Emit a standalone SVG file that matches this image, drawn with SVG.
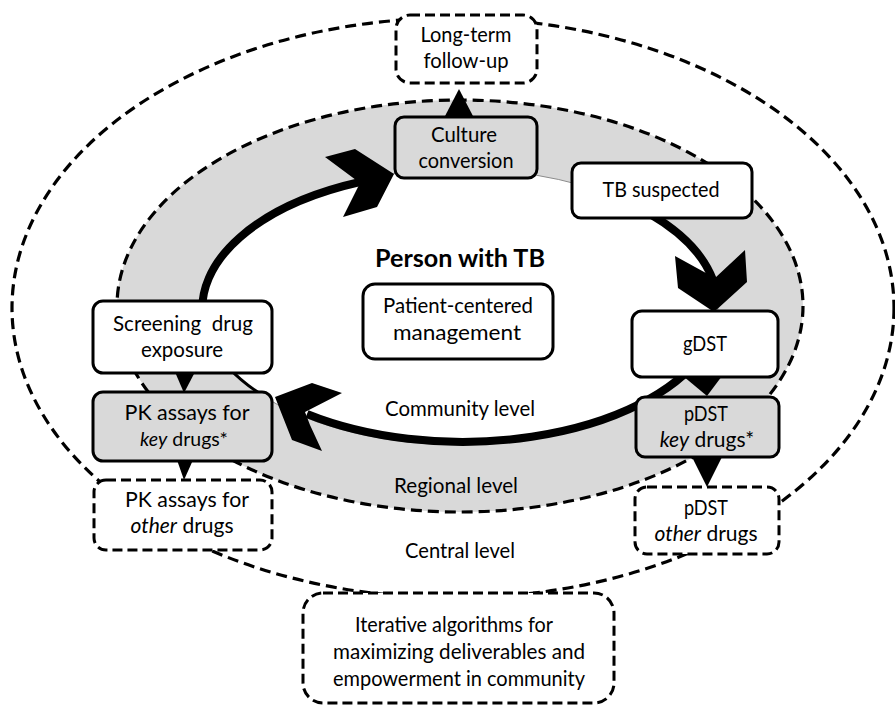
<svg xmlns="http://www.w3.org/2000/svg" width="895" height="707" viewBox="0 0 895 707">
<style>
.t{font-family:Lato,"Liberation Sans",sans-serif;font-size:21px;fill:#000;text-anchor:middle}
.b{font-weight:bold;font-size:25px}
.box{fill:#fff;stroke:#000;stroke-width:3}
.gbox{fill:#d9d9d9;stroke:#000;stroke-width:3}
.dbox{fill:#fff;stroke:#000;stroke-width:3;stroke-dasharray:10 5}
.ring{fill:none;stroke:#000;stroke-width:8}
.dash{fill:none;stroke:#000;stroke-width:3.2;stroke-dasharray:11 6}
</style>
<rect width="895" height="707" fill="#fff"/>
<g id="levels">
<ellipse cx="453" cy="308" rx="441" ry="290" class="dash"/>
<ellipse cx="460" cy="306" rx="343" ry="206" fill="#d9d9d9" stroke="#000" stroke-width="3.2" stroke-dasharray="11 6"/>
<ellipse cx="460" cy="307" rx="258" ry="138" fill="#fff" stroke="#8c8c8c" stroke-width="1"/>
</g>
<g id="connectors">
<path class="ring" d="M203,320 A258,138 0 0 1 360,182"/>
<path class="ring" d="M650,214 A258,138 0 0 1 713,280"/>
<path class="ring" d="M702,355 A258,138 0 0 1 307,414"/>
<path d="M228,367 A258,138 0 0 0 272,401" fill="none" stroke="#000" stroke-width="3"/>
<polygon points="325,157 355,149 394,174 377,207 343,217 360,183"/>
<polygon points="675,256 715,278 745,250 747,282 714,312 678,288"/>
<polygon points="275,397 312,383 342,393 305,412 310,425 322,451 292,440"/>
<polygon points="459,89 474,118 444,118"/>
<polygon points="683,376 722,376 707,396"/>
<polygon points="692,457 722,457 707,487"/>
<polygon points="175,372 195,372 184,393"/>
<polygon points="177,460 193,460 184,480"/>
</g>
<g id="long-term">
<rect class="dbox" x="396" y="15" width="141" height="68" rx="14"/>
<text class="t" x="466" y="42" textLength="91" lengthAdjust="spacingAndGlyphs">Long-term</text>
<text class="t" x="466" y="68" textLength="85" lengthAdjust="spacingAndGlyphs">follow-up</text>
</g>
<g id="culture">
<rect class="gbox" x="395" y="117" width="142" height="61" rx="9"/>
<text class="t" x="464" y="142" textLength="66" lengthAdjust="spacingAndGlyphs">Culture</text>
<text class="t" x="466" y="168" textLength="95" lengthAdjust="spacingAndGlyphs">conversion</text>
</g>
<g id="tb-suspected">
<rect class="box" x="572" y="163" width="180" height="55" rx="9"/>
<text class="t" x="661" y="197" textLength="117" lengthAdjust="spacingAndGlyphs">TB suspected</text>
</g>
<g id="gdst">
<rect class="box" x="632" y="311" width="146" height="66" rx="10"/>
<text class="t" x="705" y="351" textLength="44" lengthAdjust="spacingAndGlyphs">gDST</text>
</g>
<g id="pdst-key">
<rect class="gbox" x="636" y="397" width="143" height="60" rx="9"/>
<text class="t" x="706" y="421" textLength="44" lengthAdjust="spacingAndGlyphs">pDST</text>
<text class="t" x="707" y="447"><tspan font-style="italic">key</tspan> drugs*</text>
</g>
<g id="pdst-other">
<rect class="dbox" x="635" y="487" width="144" height="67" rx="12"/>
<text class="t" x="706" y="515" textLength="44" lengthAdjust="spacingAndGlyphs">pDST</text>
<text class="t" x="706" y="541"><tspan font-style="italic">other</tspan> drugs</text>
</g>
<g id="screening">
<rect class="box" x="93" y="301" width="179" height="72" rx="10"/>
<text class="t" x="183" y="331" textLength="140" lengthAdjust="spacingAndGlyphs" xml:space="preserve" style="white-space:pre">Screening  drug</text>
<text class="t" x="182" y="357" textLength="82" lengthAdjust="spacingAndGlyphs">exposure</text>
</g>
<g id="pk-key">
<rect class="gbox" x="93" y="392" width="179" height="69" rx="10"/>
<text class="t" x="187" y="420" textLength="125" lengthAdjust="spacingAndGlyphs">PK assays for</text>
<text class="t" x="184" y="446" style="font-size:19.5px"><tspan font-style="italic">key</tspan> drugs*</text>
</g>
<g id="pk-other">
<rect class="dbox" x="94" y="480" width="178" height="70" rx="12"/>
<text class="t" x="187" y="507" textLength="124" lengthAdjust="spacingAndGlyphs">PK assays for</text>
<text class="t" x="182" y="533"><tspan font-style="italic">other</tspan> drugs</text>
</g>
<g id="person">
<text class="t b" x="460" y="267" textLength="170" lengthAdjust="spacingAndGlyphs">Person with TB</text>
</g>
<g id="patient-centered">
<rect class="box" x="363" y="284" width="190" height="75" rx="12"/>
<text class="t" x="458" y="313" textLength="150" lengthAdjust="spacingAndGlyphs">Patient-centered</text>
<text class="t" x="457" y="340" textLength="128" lengthAdjust="spacingAndGlyphs">management</text>
</g>
<g id="level-labels">
<text class="t" x="460" y="416" textLength="150" lengthAdjust="spacingAndGlyphs">Community level</text>
<text class="t" x="456" y="493" textLength="124" lengthAdjust="spacingAndGlyphs">Regional level</text>
<text class="t" x="460" y="558" textLength="110" lengthAdjust="spacingAndGlyphs">Central level</text>
</g>
<g id="iterative">
<rect class="dbox" x="303" y="593" width="311" height="110" rx="20"/>
<text class="t" x="454" y="632" textLength="198" lengthAdjust="spacingAndGlyphs">Iterative algorithms for</text>
<text class="t" x="459" y="659" textLength="252" lengthAdjust="spacingAndGlyphs">maximizing deliverables and</text>
<text class="t" x="459" y="686" textLength="252" lengthAdjust="spacingAndGlyphs">empowerment in community</text>
</g>
</svg>
